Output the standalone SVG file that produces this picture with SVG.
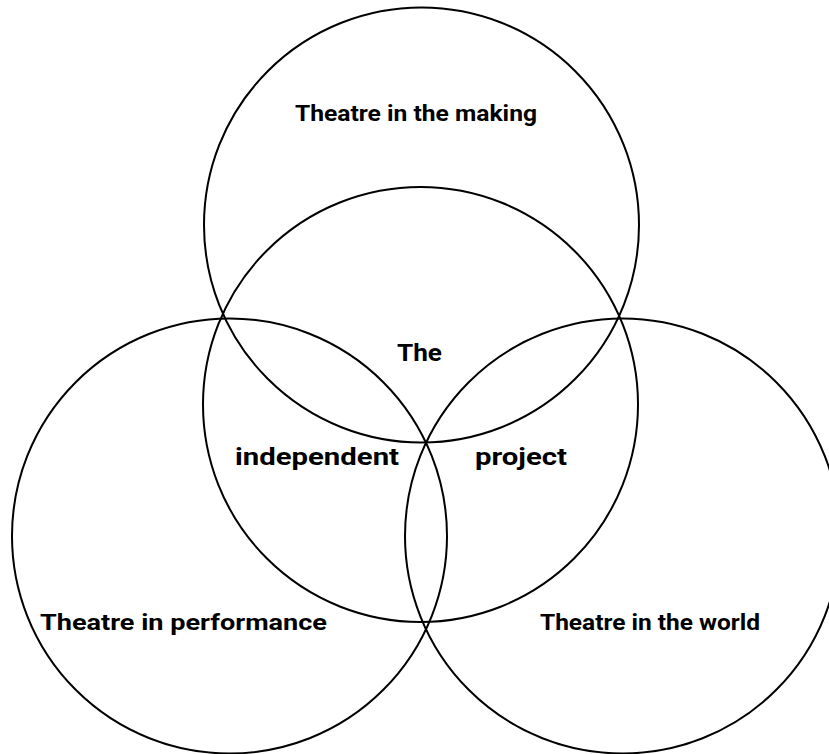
<svg xmlns="http://www.w3.org/2000/svg" width="829" height="754" viewBox="0 0 829 754">
<style>
.c{fill:none;stroke:#000;stroke-width:2}
.t{font-family:Roboto,"Noto Sans",sans-serif;font-weight:bold;font-size:22px;fill:#000}
.b{font-family:Roboto,"Noto Sans",sans-serif;font-weight:bold;font-size:24px;fill:#000}
</style>
<rect width="829" height="754" fill="#fff"/>
<g id="making"><circle class="c" cx="421.5" cy="225" r="217.5"/><text class="t" x="295" y="121" textLength="242" lengthAdjust="spacingAndGlyphs">Theatre in the making</text></g>
<g id="project"><circle class="c" cx="420.5" cy="404.5" r="217.5"/>
<text class="b" x="397" y="361" textLength="45" lengthAdjust="spacingAndGlyphs">The</text>
<text class="b" x="235" y="465" textLength="164" lengthAdjust="spacingAndGlyphs">independent</text>
<text class="b" x="475" y="465" textLength="92" lengthAdjust="spacingAndGlyphs">project</text></g>
<g id="performance"><circle class="c" cx="229.5" cy="536" r="217.5"/><text class="t" x="40" y="630" textLength="287" lengthAdjust="spacingAndGlyphs">Theatre in performance</text></g>
<g id="world"><circle class="c" cx="622.5" cy="536" r="217.5"/><text class="t" x="540" y="630" textLength="220" lengthAdjust="spacingAndGlyphs">Theatre in the world</text></g>
<g id="connectors"/>
</svg>
